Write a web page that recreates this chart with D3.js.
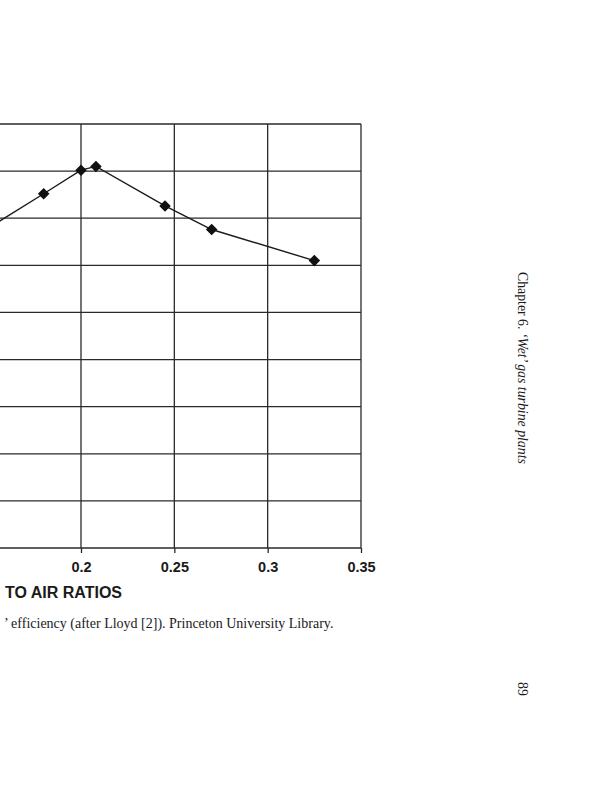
<!DOCTYPE html>
<html>
<head>
<meta charset="utf-8">
<script src="https://cdn.jsdelivr.net/npm/d3@7"></script>
<style>
  body { margin: 0; background: #fff; }
  svg { display: block; }
</style>
</head>
<body>
<svg width="599" height="800"></svg>
<script>
// values (the left part of the figure is cut off by the page)
var ratios = [0.15, 0.18, 0.2, 0.208, 0.245, 0.27, 0.325];
var efficiency = [0.439, 0.476, 0.501, 0.505, 0.463, 0.438, 0.405];
var xTicks = [0.15, 0.2, 0.25, 0.3, 0.35];
var yTicks = [0.1, 0.15, 0.2, 0.25, 0.3, 0.35, 0.4, 0.45, 0.5, 0.55];
var axisTitle = 'TO AIR RATIOS';
var caption = '\u2019 efficiency (after Lloyd [2]). Princeton University Library.';
var runningHead = ['Chapter 6. ', '\u2018Wet\u2019 gas turbine plants'];
var pageNo = '89';

var svg = d3.select('svg');
svg.append('rect').attr('width', 599).attr('height', 800).attr('fill', '#fff');

var x = d3.scaleLinear().domain([0.2, 0.35]).range([81, 361]);
var y = d3.scaleLinear().domain([0.1, 0.55]).range([548, 124]);

var g = svg.append('g');

// grid
g.append('g').selectAll('line.h')
  .data(yTicks)
  .enter().append('line')
  .attr('x1', x(0.15)).attr('x2', x(0.35))
  .attr('y1', d => y(d)).attr('y2', d => y(d))
  .style('stroke', '#2a2a2a')
  .style('stroke-width', 1.3);

g.append('g').selectAll('line.v')
  .data(xTicks)
  .enter().append('line')
  .attr('x1', d => x(d)).attr('x2', d => x(d))
  .attr('y1', y(0.55)).attr('y2', y(0.1))
  .style('stroke', '#2a2a2a')
  .style('stroke-width', 1.3);

// bottom axis with ticks
var xAxis = d3.axisBottom(x)
  .tickValues(xTicks.filter(d => x(d) > 0))
  .tickSize(5)
  .tickPadding(9)
  .tickFormat(d3.format('~g'));

var ax = g.append('g')
  .attr('transform', 'translate(0,' + y(0.1) + ')')
  .call(xAxis);
ax.select('.domain').remove();
ax.selectAll('line').style('stroke', '#2a2a2a').style('stroke-width', 1.3);
ax.selectAll('text')
  .style('font-family', '"Liberation Sans", Arial, sans-serif')
  .style('font-weight', 'bold')
  .style('font-size', '14.5px')
  .style('fill', '#1a1a1a');

// axis title (only the visible end of it)
svg.append('text')
  .attr('x', 5).attr('y', 598)
  .text(axisTitle)
  .style('font-family', '"Liberation Sans", Arial, sans-serif')
  .style('font-weight', 'bold')
  .style('font-size', '16px')
  .style('fill', '#1a1a1a');

// series line
var line = d3.line()
  .x((d, i) => x(ratios[i]))
  .y(d => y(d));

g.append('path')
  .datum(efficiency)
  .attr('d', line)
  .attr('fill', 'none')
  .style('stroke', '#1a1a1a')
  .style('stroke-width', 1.4);

g.append('g').selectAll('path.pt')
  .data(efficiency)
  .enter().append('path')
  .attr('d', d3.symbol().type(d3.symbolDiamond2).size(85))
  .attr('transform', (d, i) => 'translate(' + x(ratios[i]) + ',' + y(d) + ')')
  .attr('fill', '#111');

// caption
svg.append('text')
  .attr('x', 4).attr('y', 628)
  .text(caption)
  .style('font-family', '"Liberation Serif", "Times New Roman", serif')
  .style('font-size', '14px')
  .style('fill', '#1a1a1a');

// running head, rotated
var rh = svg.append('text')
  .attr('transform', 'translate(518,272) rotate(90)')
  .style('font-family', '"Liberation Serif", "Times New Roman", serif')
  .style('font-size', '13.8px')
  .style('fill', '#1a1a1a');
rh.append('tspan').text(runningHead[0]);
rh.append('tspan').text(runningHead[1]).style('font-style', 'italic');

svg.append('text')
  .attr('transform', 'translate(518,682) rotate(90)')
  .text(pageNo)
  .style('font-family', '"Liberation Serif", "Times New Roman", serif')
  .style('font-size', '13.8px')
  .style('fill', '#1a1a1a');
</script>
</body>
</html>
